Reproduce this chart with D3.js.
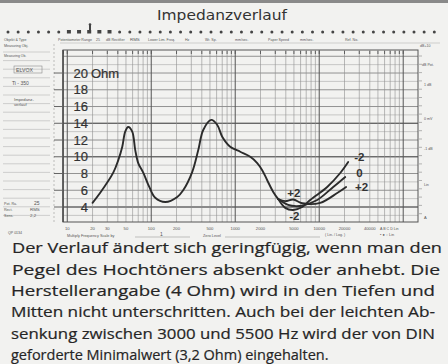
<!DOCTYPE html>
<html><head><meta charset="utf-8">
<script src="https://cdn.jsdelivr.net/npm/d3@7"></script>
<style>html,body{margin:0;padding:0;background:#f2f2f0;} svg{display:block;}</style>
</head><body><svg id="c" width="448" height="364"></svg>
<script>
// ---- data ----
const freqMain = [20, 24.7, 35.3, 40.5, 45.2, 49, 53.2, 59.4, 64.5, 70, 80.3, 94.7, 111.6, 147, 204, 240, 308, 363, 416, 518, 611, 700, 871, 1147, 1510, 1828, 2095, 2404, 2833, 3250];
const zMain    = [4.5, 5.7, 8.1, 9.6, 11.2, 13.0, 13.55, 13.0, 10.8, 9.25, 8.1, 6.4, 5.1, 4.6, 5.2, 6.0, 8.2, 10.8, 13.2, 14.4, 13.8, 12.4, 11.2, 10.6, 10.0, 9.25, 8.4, 7.2, 5.8, 4.95];
const freqMinus = [3250, 3938, 4900, 6280, 7810, 12450, 17800, 22130];
const zMinus    = [4.95, 3.9, 3.65, 4.0, 4.84, 6.39, 8.06, 9.37];
const freqZero  = [3250, 4276, 5321, 6450, 9460, 14680, 20400];
const zZero     = [4.95, 4.25, 4.1, 4.2, 4.84, 6.39, 7.58];
const freqPlus  = [3250, 3938, 4900, 6280, 10280, 16380, 20900];
const zPlus     = [4.95, 4.7, 4.9, 4.45, 4.5, 5.67, 6.39];
const yTicks = [4, 6, 8, 10, 12, 14, 16, 18, 20];
const freqTicks = [10, 20, 30, 50, 100, 200, 500, 1000, 2000, 5000, 10000, 20000, 40000];
const title = "Impedanzverlauf";
const textLines = [
  "Der Verlauf ändert sich geringfügig, wenn man den",
  "Pegel des Hochtöners absenkt oder anhebt. Die",
  "Herstellerangabe (4 Ohm) wird in den Tiefen und",
  "Mitten nicht unterschritten. Auch bei der leichten Ab-",
  "senkung zwischen 3000 und 5500 Hz wird der von DIN",
  "geforderte Minimalwert (3,2 Ohm) eingehalten."
];

const svg = d3.select("#c");
const ink = "#2b2b2b";
const L = 63, R = 418, T = 50, B = 222;
const x = d3.scaleLog().domain([8.9, 150000]).range([L, R]);
const y = d3.scaleLinear().domain([2.21, 22.75]).range([B, T]);

// top bar
svg.append("rect").attr("x",0).attr("y",0).attr("width",448).attr("height",3).attr("fill","#8a8a8a");

// title
svg.append("text").attr("x",157).attr("y",20).attr("textLength",130).attr("lengthAdjust","spacingAndGlyphs")
  .attr("font-family","DejaVu Sans").attr("font-size",14).attr("fill","#333").text(title);

// sprocket dots row
const dotG = svg.append("g").attr("fill","#444");
d3.range(8, 442, 10.15).forEach((cx)=>{
  const bold = cx>60 && cx<112;
  if (bold) dotG.append("rect").attr("x",cx-2).attr("y",30).attr("width",4).attr("height",3.5);
  else dotG.append("circle").attr("cx",cx).attr("cy",32).attr("r",1.5);
});
dotG.append("rect").attr("x",89).attr("y",25).attr("width",2).attr("height",5);
dotG.append("circle").attr("cx",90).attr("cy",24.5).attr("r",1.3);

// tiny header texts
const tiny = (tx,ty,t,s=3.6,anchor="start")=>svg.append("text").attr("x",tx).attr("y",ty).attr("font-family","Liberation Sans")
  .attr("font-size",s).attr("fill","#555").attr("text-anchor",anchor).text(t);
tiny(4,41,"Objekt & Type");
tiny(58,41,"Potentiometer Range");
tiny(96,41,"25");
tiny(106,41,"dB  Rectifier");
tiny(130,41,"RMS",4.4);
tiny(148,41,"Lower Lim. Freq.");
tiny(185,41,"Hz");
tiny(205,41,"Wr. Sp.");
tiny(235,41,"mm/sec.");
tiny(268,41,"Paper Speed");
tiny(300,41,"mm/sec.");
tiny(345,41,"Ref. No.");
svg.append("line").attr("x1",60).attr("x2",440).attr("y1",43).attr("y2",43).attr("stroke","#aaa").attr("stroke-width",0.5);
tiny(4,47,"Measuring Obj.");
tiny(420,47,"dB+10");

// left form column
const leftG = svg.append("g");
d3.range(52, 218, 8.6).forEach(yy=>{
  leftG.append("line").attr("x1",3).attr("x2",50).attr("y1",yy).attr("y2",yy).attr("stroke","#b5b5b5").attr("stroke-width",0.6);
});
leftG.append("line").attr("x1",54).attr("x2",54).attr("y1",44).attr("y2",B).attr("stroke","#999").attr("stroke-width",0.6).attr("stroke-dasharray","2,2");
tiny(4,57,"Measuring Ob.",3.4);
svg.append("rect").attr("x",14).attr("y",66).attr("width",28).attr("height",7).attr("fill","none").attr("stroke","#777").attr("stroke-width",0.5);
tiny(16,72,"ELVOX",5.2);
tiny(12,85,"Ti - 350",5);
tiny(14,101,"Impedanz-",4.2);
tiny(14,106,"verlauf",4.2);
tiny(4,205,"Pot. Ra.",3.6); tiny(34,205,"25",5);
tiny(4,211,"Rect.",3.6); tiny(30,211,"RMS",4.4);
tiny(4,217,"Sens.",3.6); tiny(30,217,"2,2",4.4);
tiny(8,234,"QP 0134",3.6);

// grid
const gridG = svg.append("g");
d3.range(3, 23).forEach(v=>{
  const dark = v%2===0;
  gridG.append("line").attr("x1",L).attr("x2",R).attr("y1",y(v)).attr("y2",y(v))
    .attr("stroke", dark ? "#7a7a7a" : "#a8a8a8").attr("stroke-width", dark ? 0.8 : 0.6);
});
[4,10,14].forEach(v=>gridG.append("line").attr("x1",L).attr("x2",R).attr("y1",y(v)).attr("y2",y(v)).attr("stroke","#555").attr("stroke-width",1));
const xGrid = [];
[1,10,100,1000,10000,100000].forEach(d=>d3.range(1,10).forEach(m=>{const f=m*d; if(f>=8.9&&f<=150000) xGrid.push({f,dec:m===1});}));
xGrid.forEach(g=>{
  gridG.append("line").attr("x1",x(g.f)).attr("x2",x(g.f)).attr("y1",T).attr("y2",B)
    .attr("stroke", g.dec ? "#555" : "#8e8e8e").attr("stroke-width", g.dec ? 1 : 0.6);
  gridG.append("line").attr("x1",x(g.f)).attr("x2",x(g.f)).attr("y1",T+1).attr("y2",T+4).attr("stroke","#555").attr("stroke-width",0.9);
});
gridG.append("rect").attr("x",L).attr("y",T).attr("width",R-L).attr("height",B-T).attr("fill","none").attr("stroke","#555").attr("stroke-width",1);
gridG.append("line").attr("x1",L).attr("x2",L).attr("y1",T).attr("y2",B).attr("stroke","#444").attr("stroke-width",1.3);

// left ticks for y labels
yTicks.forEach(v=>{
  svg.append("line").attr("x1",54).attr("x2",62).attr("y1",y(v)).attr("y2",y(v)).attr("stroke","#555").attr("stroke-width",0.9);
});

// y labels
yTicks.forEach(v=>{
  svg.append("text").attr("x",88).attr("y",y(v)).attr("dy","0.36em").attr("text-anchor","end")
    .attr("font-family","Liberation Sans").attr("font-size",13).attr("fill","#333").attr("stroke","#333").attr("stroke-width",0.2).text(v);
});
svg.append("text").attr("x",91).attr("y",y(20)).attr("dy","0.36em").attr("font-family","Liberation Sans")
  .attr("font-size",13).attr("fill","#333").attr("stroke","#333").attr("stroke-width",0.2).text("Ohm");

// bottom frequency labels
freqTicks.forEach(f=>{
  svg.append("text").attr("x",x(f)).attr("y",230).attr("text-anchor","middle").attr("font-family","Liberation Sans")
    .attr("font-size",4.2).attr("fill","#555").text(f);
});
tiny(67,237,"Multiply Frequency Scale by",3.8);
svg.append("line").attr("x1",135).attr("x2",190).attr("y1",237).attr("y2",237).attr("stroke","#888").attr("stroke-width",0.5);
tiny(160,236,"1",5);
tiny(203,237,"Zero Level",3.8);
svg.append("line").attr("x1",225).attr("x2",320).attr("y1",237).attr("y2",237).attr("stroke","#888").attr("stroke-width",0.5);
tiny(325,236,"( Lin. / Log. )",3.6);
tiny(380,236,"•  ●  ○  Lin",3.8);
tiny(380,230,"A   B   C   D  Lin",3.6);

// right side panel
tiny(422,66,"dB Pot.",3.6);
tiny(424,86,"1 dB",3.6);
tiny(424,120,"0 mV",3.6);
tiny(424,150,"-1 dB",3.6);
tiny(424,186,"Lin",3.6);
tiny(424,219,"A",4);
d3.range(56, 222, 8.3).forEach(yy=>svg.append("line").attr("x1",419).attr("x2",422).attr("y1",yy).attr("y2",yy).attr("stroke","#888").attr("stroke-width",0.6));

// curves
const line = d3.line().x(d=>x(d[0])).y(d=>y(d[1])).curve(d3.curveCatmullRom.alpha(0.5));
[[freqMain, zMain],[freqMinus, zMinus],[freqZero, zZero],[freqPlus, zPlus]].forEach(([fs,zs])=>{
  svg.append("path").attr("d", line(fs.map((f,i)=>[f,zs[i]]))).attr("fill","none")
    .attr("stroke",ink).attr("stroke-width",1.9).attr("stroke-linejoin","round").attr("stroke-linecap","round");
});

// curve labels
const lab = (tx,ty,t)=>svg.append("text").attr("x",tx).attr("y",ty).attr("dy","0.36em").attr("font-family","Liberation Sans")
  .attr("font-size",11.5).attr("font-weight","bold").attr("fill","#333").text(t);
lab(x(freqMinus[freqMinus.length-1])+6, y(zMinus[zMinus.length-1])-5, "-2");
lab(x(freqZero[freqZero.length-1])+11, y(zZero[zZero.length-1])-4, "0");
lab(x(freqPlus[freqPlus.length-1])+9, y(zPlus[zPlus.length-1]), "+2");
lab(x(4900)-6, y(4.9)-7, "+2");
lab(x(4900)-4, y(3.65)+6, "-2");

// paragraph
const baselines = [253, 274.5, 296, 317, 338.5, 359.5];
textLines.forEach((t,i)=>{
  const tx = svg.append("text").attr("x", i<2 ? 12 : 11).attr("y",baselines[i]).attr("font-family","Open Sans")
    .attr("font-size",14.5).attr("font-weight",500).attr("fill","#252525").attr("stroke","#252525").attr("stroke-width",0.2).text(t);
  if (i < textLines.length-1) tx.attr("textLength", i===0 ? 430 : (i===1 ? 428 : 424)).attr("lengthAdjust","spacingAndGlyphs");
});
</script></body></html>
